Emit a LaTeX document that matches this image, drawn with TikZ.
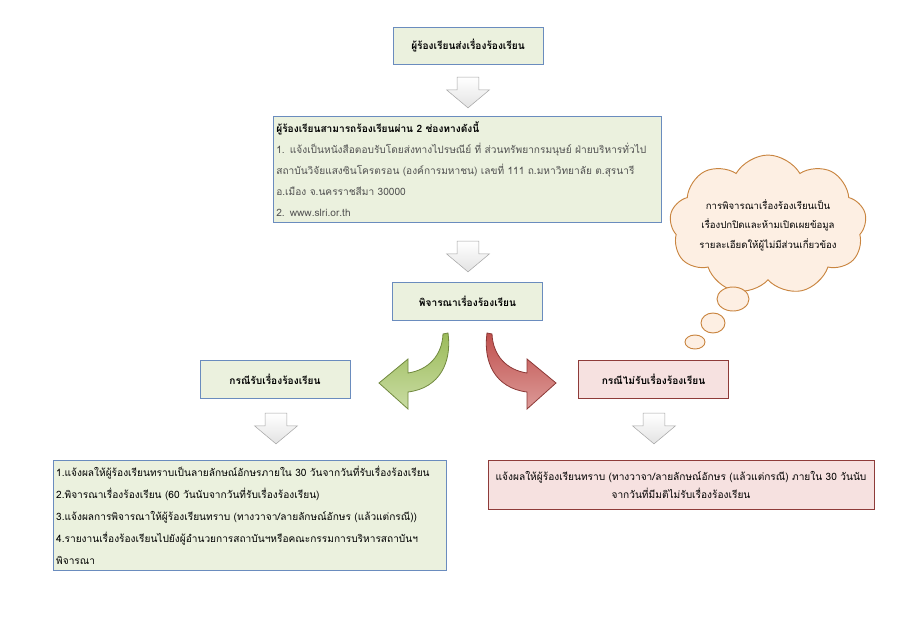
\documentclass[tikz,border=0pt]{standalone}
\usepackage{fontspec}
\setmainfont[Script=Thai]{Loma}
\usetikzlibrary{shapes, shapes.arrows, shapes.symbols, positioning, calc}

\definecolor{boxgreen}{HTML}{EBF1DE}
\definecolor{boxblue}{HTML}{6A8CBE}
\definecolor{boxpink}{HTML}{F6E1E0}
\definecolor{boxred}{HTML}{8E3B39}
\definecolor{cloudfill}{HTML}{FDEFE3}
\definecolor{cloudline}{HTML}{C98540}
\definecolor{textgrey}{HTML}{505050}
\definecolor{okdark}{HTML}{9BBB59}
\definecolor{oklight}{HTML}{C9DCA3}
\definecolor{okline}{HTML}{71893F}
\definecolor{nodark}{HTML}{C0504D}
\definecolor{nolight}{HTML}{DC9A98}
\definecolor{noline}{HTML}{8C3836}

\begin{document}
\begin{tikzpicture}[x=0.75pt,y=-0.75pt,
    okbox/.style={draw=boxblue, fill=boxgreen, line width=0.7pt, inner sep=2pt,
        font=\bfseries\fontsize{7.6}{10}\selectfont},
    nobox/.style={okbox, draw=boxred, fill=boxpink},
    listbox/.style={okbox, font=\fontsize{7.6}{16.5}\selectfont, align=left},
    downarr/.style={single arrow, shape border rotate=270, draw=gray!70,
        top color=white, bottom color=gray!22, minimum height=22.5pt,
        single arrow head extend=7.9pt, single arrow tip angle=100,
        inner sep=7.9pt}]
  \useasboundingbox (0,0) rectangle (900,636);

  % top part
  \node[okbox, minimum width=112.5pt, minimum height=27.75pt] (sendbox) at (468,45.5)
     {ผู้ร้องเรียนส่งเรื่องร้องเรียน};
  \node[listbox, text width=286pt, minimum width=291pt, minimum height=79.5pt,
     font=\fontsize{7.6}{15.75}\selectfont] (channels) at (467,169)
     {\textbf{ผู้ร้องเรียนสามารถร้องเรียนผ่าน 2 ช่องทางดังนี้}\\
      \textcolor{textgrey}{1. แจ้งเป็นหนังสือตอบรับโดยส่งทางไปรษณีย์ ที่ ส่วนทรัพยากรมนุษย์ ฝ่ายบริหารทั่วไป}\\
      \textcolor{textgrey}{สถาบันวิจัยแสงซินโครตรอน (องค์การมหาชน) เลขที่ 111 ถ.มหาวิทยาลัย ต.สุรนารี}\\
      \textcolor{textgrey}{อ.เมือง จ.นครราชสีมา 30000}\\
      \textcolor{textgrey}{2. www.slri.or.th}};
  \node[okbox, minimum width=112pt, minimum height=28.5pt] (consider) at (467.5,301)
     {พิจารณาเรื่องร้องเรียน};
  \node[downarr] (arrowA) at (468,88) {};
  \node[downarr] (arrowB) at (468,252) {};

  % note cloud
  \node[cloud, cloud puffs=9, cloud puff arc=120, aspect=1.7, draw=cloudline,
     fill=cloudfill, line width=0.7pt, inner sep=-2pt, minimum width=120pt,
     minimum height=70pt, align=center, font=\fontsize{7.2}{14.5}\selectfont]
     (note) at (768,225)
     {การพิจารณาเรื่องร้องเรียนเป็น\\เรื่องปกปิดและห้ามเปิดเผยข้อมูล\\รายละเอียดให้ผู้ไม่มีส่วนเกี่ยวข้อง};
  \draw[draw=cloudline, fill=cloudfill, line width=0.7pt] (733,299) ellipse (12pt and 9pt);
  \draw[draw=cloudline, fill=cloudfill, line width=0.7pt] (713,323) ellipse (9pt and 7.5pt);
  \draw[draw=cloudline, fill=cloudfill, line width=0.7pt] (695,342) ellipse (7.5pt and 5.25pt);

  % the two branches
  \node[okbox, minimum width=112.5pt, minimum height=28.5pt] (accept) at (275,379)
     {กรณีรับเรื่องร้องเรียน};
  \node[nobox, minimum width=112pt, minimum height=28.5pt] (reject) at (653.5,379)
     {กรณีไม่รับเรื่องร้องเรียน};
  \draw[draw=okline, line width=0.6pt, top color=okdark, bottom color=oklight]
     (448,333) .. controls (452,362) and (440,388) .. (408,392) -- (408,409)
     -- (379,383) -- (408,359) -- (408,373)
     .. controls (428,370) and (442,356) .. (443,334) -- cycle;
  \draw[draw=noline, line width=0.6pt, top color=nodark, bottom color=nolight]
     (487,333) .. controls (483,362) and (495,388) .. (527,392) -- (527,409)
     -- (556,383) -- (527,359) -- (527,373)
     .. controls (507,370) and (493,356) .. (492,334) -- cycle;

  \node[downarr] (arrowC) at (276,424) {};
  \node[downarr] (arrowD) at (654,424) {};

  % what happens next
  \node[listbox, text width=290pt, minimum width=294.75pt, minimum height=82.5pt]
     (acceptsteps) at (249.5,515)
     {1.แจ้งผลให้ผู้ร้องเรียนทราบเป็นลายลักษณ์อักษรภายใน 30 วันจากวันที่รับเรื่องร้องเรียน\\
      2.พิจารณาเรื่องร้องเรียน (60 วันนับจากวันที่รับเรื่องร้องเรียน)\\
      3.แจ้งผลการพิจารณาให้ผู้ร้องเรียนทราบ (ทางวาจา/ลายลักษณ์อักษร (แล้วแต่กรณี))\\
      4.รายงานเรื่องร้องเรียนไปยังผู้อำนวยการสถาบันฯหรือคณะกรรมการบริหารสถาบันฯ\\
      พิจารณา};
  \node[nobox, align=center, font=\fontsize{7.6}{13.5}\selectfont,
     minimum width=289.5pt, minimum height=36.75pt] (rejectstep) at (681,484.5)
     {แจ้งผลให้ผู้ร้องเรียนทราบ (ทางวาจา/ลายลักษณ์อักษร (แล้วแต่กรณี) ภายใน 30 วันนับ\\
      จากวันที่มีมติไม่รับเรื่องร้องเรียน};
\end{tikzpicture}
\end{document}
